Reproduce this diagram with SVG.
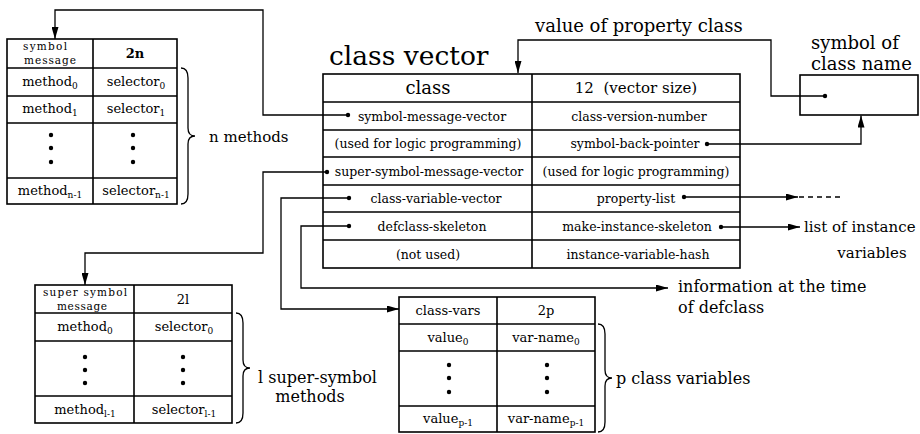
<svg xmlns="http://www.w3.org/2000/svg" width="920" height="434" viewBox="0 0 920 434">
<style>
text{font-family:"DejaVu Serif","Liberation Serif",serif;fill:#000}
.c{text-anchor:middle}
.s{font-size:12.5px}
.h{font-size:10.5px}
.m{font-size:13px}
.l{font-size:16px}
.box{fill:none;stroke:#000;stroke-width:1.6}
.ln{fill:none;stroke:#000;stroke-width:1.3}
.ar{marker-end:url(#ah)}
.br{fill:none;stroke:#000;stroke-width:1.3}
</style>
<defs>
<marker id="ah" viewBox="0 0 12 7" refX="12" refY="3.5" markerWidth="12" markerHeight="7" markerUnits="userSpaceOnUse" orient="auto"><path d="M0,0 L12,3.5 L0,7 z" fill="#000"/></marker>
</defs>

<g id="symbol-message-table">
<rect class="box" x="7" y="39" width="170" height="165"/>
<path class="box" d="M93,39V204M7,68H177M7,96H177M7,123H177M7,178H177"/>
<text class="c h" x="45" y="50" textLength="44">symbol</text>
<text class="c h" x="50" y="64" textLength="52">message</text>
<text class="c m" x="135" y="58" font-weight="bold">2n</text>
<text class="c m" x="50" y="86">method<tspan font-size="9" dy="3">0</tspan></text>
<text class="c m" x="136" y="86">selector<tspan font-size="9" dy="3">0</tspan></text>
<text class="c m" x="50" y="113">method<tspan font-size="9" dy="3">1</tspan></text>
<text class="c m" x="136" y="113">selector<tspan font-size="9" dy="3">1</tspan></text>
<circle cx="51" cy="135" r="2.2"/><circle cx="51" cy="148" r="2.2"/><circle cx="51" cy="162" r="2.2"/>
<circle cx="133" cy="135" r="2.2"/><circle cx="133" cy="148" r="2.2"/><circle cx="133" cy="162" r="2.2"/>
<text class="c m" x="50" y="195">method<tspan font-size="9" dy="3">n-1</tspan></text>
<text class="c m" x="136" y="195">selector<tspan font-size="9" dy="3">n-1</tspan></text>
<path class="br" d="M181,68Q188,68 188,78V128Q188,136 195,136Q188,136 188,144V194Q188,204 181,204"/>
<text x="209" y="142" font-size="15">n methods</text>
</g>

<g id="class-vector">
<text x="329" y="65" font-size="26.5">class vector</text>
<rect class="box" x="323" y="74" width="417" height="194"/>
<path class="box" d="M532,74V268M323,102H740M323,130H740M323,157H740M323,185H740M323,212H740M323,240H740"/>
<text class="c" x="428" y="94" font-size="18">class</text>
<text class="c" x="636" y="93" font-size="15" style="white-space:pre">12  (vector size)</text>
<text class="c s" x="432" y="120.5">symbol-message-vector</text>
<text class="c s" x="428" y="148">(used for logic programming)</text>
<text class="c s" x="429" y="175.5">super-symbol-message-vector</text>
<text class="c s" x="436" y="203">class-variable-vector</text>
<text class="c s" x="432" y="230.5">defclass-skeleton</text>
<text class="c s" x="428" y="258.5">(not used)</text>
<text class="c s" x="639" y="120.5">class-version-number</text>
<text class="c s" x="635" y="148">symbol-back-pointer</text>
<text class="c s" x="636" y="175.5">(used for logic programming)</text>
<text class="c s" x="636" y="203">property-list</text>
<text class="c s" x="637" y="230.5">make-instance-skeleton</text>
<text class="c s" x="638" y="258.5">instance-variable-hash</text>
<circle cx="348" cy="115" r="2.2"/>
<circle cx="327" cy="172" r="2.2"/>
<circle cx="349" cy="198" r="2.2"/>
<circle cx="349" cy="226" r="2.2"/>
<circle cx="707" cy="144" r="2.2"/>
<circle cx="684" cy="197" r="2.2"/>
<circle cx="721" cy="227" r="2.2"/>
</g>

<g id="symbol-of-class-name">
<text x="811" y="49" font-size="18">symbol of</text>
<text x="811" y="70" font-size="18">class name</text>
<rect class="box" x="800" y="75" width="118" height="40"/>
<circle cx="825" cy="96" r="2.2"/>
</g>

<g id="super-symbol-message-table">
<rect class="box" x="35" y="285" width="197" height="138"/>
<path class="box" d="M134,285V423M35,313H232M35,341H232M35,396H232"/>
<text class="c h" x="85" y="296" textLength="84">super symbol</text>
<text class="c h" x="82" y="310" textLength="50">message</text>
<text class="c m" x="183" y="304">2l</text>
<text class="c m" x="85" y="331">method<tspan font-size="9" dy="3">0</tspan></text>
<text class="c m" x="184" y="331">selector<tspan font-size="9" dy="3">0</tspan></text>
<circle cx="85" cy="357" r="2.2"/><circle cx="85" cy="370" r="2.2"/><circle cx="85" cy="383" r="2.2"/>
<circle cx="183" cy="357" r="2.2"/><circle cx="183" cy="370" r="2.2"/><circle cx="183" cy="383" r="2.2"/>
<text class="c m" x="85" y="414">method<tspan font-size="9" dy="3">l-1</tspan></text>
<text class="c m" x="184" y="414">selector<tspan font-size="9" dy="3">l-1</tspan></text>
<path class="br" d="M236,313Q243,313 243,323V360Q243,368 250,368Q243,368 243,376V413Q243,423 236,423"/>
<text x="258" y="383" class="l">l super-symbol</text>
<text x="310" y="402" class="c l">methods</text>
</g>

<g id="class-vars-table">
<rect class="box" x="399" y="297" width="196" height="135"/>
<path class="box" d="M497,297V432M399,324H595M399,351H595M399,406H595"/>
<text class="c m" x="448" y="315">class-vars</text>
<text class="c m" x="546" y="315">2p</text>
<text class="c m" x="448" y="342">value<tspan font-size="9" dy="3">0</tspan></text>
<text class="c m" x="546" y="342">var-name<tspan font-size="9" dy="3">0</tspan></text>
<circle cx="449" cy="365" r="2.2"/><circle cx="449" cy="378" r="2.2"/><circle cx="449" cy="392" r="2.2"/>
<circle cx="547" cy="365" r="2.2"/><circle cx="547" cy="378" r="2.2"/><circle cx="547" cy="392" r="2.2"/>
<text class="c m" x="448" y="423">value<tspan font-size="9" dy="3">p-1</tspan></text>
<text class="c m" x="546" y="423">var-name<tspan font-size="9" dy="3">p-1</tspan></text>
<path class="br" d="M598,324Q605,324 605,334V370Q605,378 612,378Q605,378 605,386V422Q605,432 598,432"/>
<text x="616" y="384" class="l">p class variables</text>
</g>

<g id="labels">
<text x="535" y="32" font-size="18">value of property class</text>
<text x="804" y="232" font-size="15">list of instance</text>
<text x="872" y="258" font-size="15" class="c">variables</text>
<text x="678" y="292" font-size="16">information at the time</text>
<text x="678" y="313" font-size="16">of defclass</text>
</g>

<g id="connectors">
<path class="ln ar" d="M348,115H263V10H55V39"/>
<path class="ln ar" d="M825,96H771V40H518V73"/>
<path class="ln ar" d="M707,144H861V115.5"/>
<path class="ln ar" d="M327,172H263V253H85V285"/>
<path class="ln ar" d="M349,198H281V309H399"/>
<path class="ln ar" d="M349,226H301V288H668"/>
<path class="ln ar" d="M684,197H798"/>
<path class="ln" d="M799,197H840" stroke-dasharray="5,4"/>
<path class="ln ar" d="M721,227H800"/>
</g>
</svg>
